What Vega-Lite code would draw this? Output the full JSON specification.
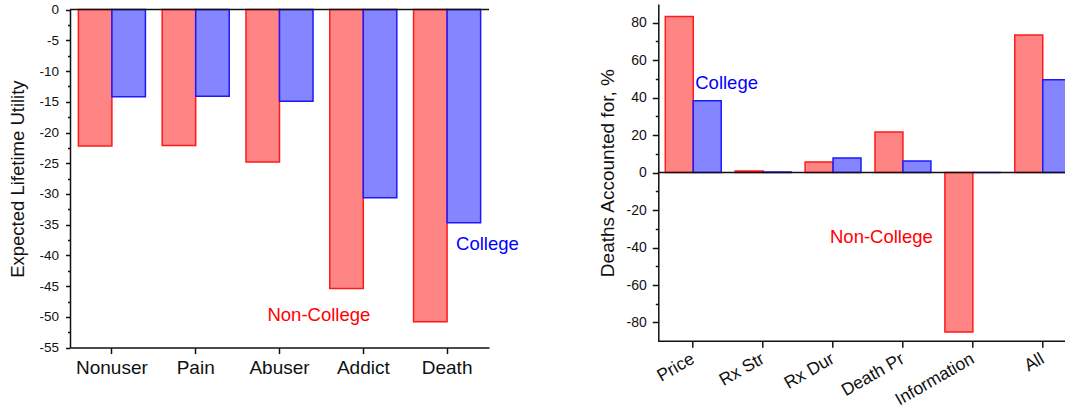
{
  "$schema": "https://vega.github.io/schema/vega-lite/v6.json",
  "padding": {"left": 8, "top": 2, "right": 0, "bottom": 0},
  "bounds": "flush",
  "spacing": 169.3,
  "resolve": {"scale": {"xOffset": "independent", "x": "independent", "y": "independent"}},
  "config": {
    "font": "Liberation Sans",
    "view": {"stroke": null},
    "axis": {
      "grid": false,
      "labelOverlap": false,
      "tickCount": 100,
      "domainColor": "#111",
      "domainWidth": 1.5,
      "tickColor": "#111",
      "tickWidth": 1.5,
      "labelColor": "#111",
      "titleColor": "#111",
      "titleFontWeight": "normal",
      "labelFont": "Liberation Sans",
      "titleFont": "Liberation Sans"
    },
    "text": {"font": "Liberation Sans"}
  },
  "hconcat": [
    {
      "width": 419,
      "height": 343.6,
      "layer": [
        {
          "layer": [
            {
              "data": {"values": [
                {"state": "Nonuser", "group": "Non-College", "utility": -22.2},
                {"state": "Nonuser", "group": "College", "utility": -14.2},
                {"state": "Pain", "group": "Non-College", "utility": -22.1},
                {"state": "Pain", "group": "College", "utility": -14.1},
                {"state": "Abuser", "group": "Non-College", "utility": -24.8},
                {"state": "Abuser", "group": "College", "utility": -14.9},
                {"state": "Addict", "group": "Non-College", "utility": -45.4},
                {"state": "Addict", "group": "College", "utility": -30.6},
                {"state": "Death", "group": "Non-College", "utility": -50.8},
                {"state": "Death", "group": "College", "utility": -34.7}
              ]},
              "mark": {"type": "bar", "strokeWidth": 1.5},
              "encoding": {
                "x": {
                  "field": "state", "type": "nominal",
                  "scale": {"domain": ["Nonuser", "Pain", "Abuser", "Addict", "Death"], "paddingInner": 0, "paddingOuter": 0},
                  "axis": {"title": null, "labelAngle": 0, "labelFontSize": 19, "tickSize": 6, "labelPadding": 5}
                },
                "xOffset": {
                  "field": "group", "type": "nominal",
                  "scale": {"domain": ["Non-College", "College"], "paddingInner": 0, "paddingOuter": 0.25}
                },
                "y": {
                  "field": "utility", "type": "quantitative",
                  "scale": {"domain": [-55, 0], "range": [343.6, 5.6], "nice": false, "zero": false},
                  "axis": {
                    "title": "Expected Lifetime Utility",
                    "titleFontSize": 18.5,
                    "titlePadding": 11,
                    "labelFontSize": 13.5,
                    "labelPadding": 7,
                    "tickSize": 4.5,
                    "tickCount": 100,
                    "labelOverlap": false,
                    "values": [0, -5, -10, -15, -20, -25, -30, -35, -40, -45, -50, -55],
                    "labelExpr": "toString(datum.value)"
                  }
                },
                "fill": {"field": "group", "type": "nominal", "scale": {"domain": ["Non-College", "College"], "range": ["#ff8585", "#8585ff"]}, "legend": null},
                "stroke": {"field": "group", "type": "nominal", "scale": {"domain": ["Non-College", "College"], "range": ["#ff1a1a", "#1a1aff"]}, "legend": null}
              }
            },
            {
              "data": {"values": [{"utility": 0}]},
              "mark": {"type": "rule", "color": "#111", "strokeWidth": 1.5},
              "encoding": {"y": {"field": "utility", "type": "quantitative"}}
            },
            {
              "data": {"values": [{"state": "Addict", "utility": -49.7, "label": "Non-College"}]},
              "mark": {"type": "text", "align": "right", "baseline": "middle", "dx": 7, "fontSize": 18.5, "color": "#ff0000"},
              "encoding": {
                "x": {"field": "state", "type": "nominal"},
                "y": {"field": "utility", "type": "quantitative"},
                "text": {"field": "label"}
              }
            },
            {
              "data": {"values": [{"state": "Death", "utility": -38.2, "label": "College"}]},
              "mark": {"type": "text", "align": "left", "baseline": "middle", "dx": 9, "fontSize": 18.5, "color": "#0000ff"},
              "encoding": {
                "x": {"field": "state", "type": "nominal"},
                "y": {"field": "utility", "type": "quantitative"},
                "text": {"field": "label"}
              }
            }
          ]
        },
        {
          "data": {"values": [{"utility": 0}]},
          "mark": {"type": "rule", "opacity": 0},
          "encoding": {
            "y": {
              "field": "utility", "type": "quantitative",
              "axis": {"orient": "left", "tickCount": 100, "values": [-2.5, -7.5, -12.5, -17.5, -22.5, -27.5, -32.5, -37.5, -42.5, -47.5, -52.5], "tickSize": 2.5, "labels": false, "domain": false, "title": null}
            }
          }
        }
      ],
      "resolve": {"axis": {"y": "independent"}}
    },
    {
      "width": 408.7,
      "height": 337.2,
      "layer": [
        {
          "layer": [
            {
              "data": {"values": [
                {"factor": "Price", "group": "Non-College", "pct": 83.3},
                {"factor": "Price", "group": "College", "pct": 38.4},
                {"factor": "Rx Str", "group": "Non-College", "pct": 0.8},
                {"factor": "Rx Str", "group": "College", "pct": 0.3},
                {"factor": "Rx Dur", "group": "Non-College", "pct": 5.7},
                {"factor": "Rx Dur", "group": "College", "pct": 7.8},
                {"factor": "Death Pr", "group": "Non-College", "pct": 21.7},
                {"factor": "Death Pr", "group": "College", "pct": 6.2},
                {"factor": "Information", "group": "Non-College", "pct": -85.1},
                {"factor": "Information", "group": "College", "pct": 0},
                {"factor": "All", "group": "Non-College", "pct": 73.5},
                {"factor": "All", "group": "College", "pct": 49.5}
              ]},
              "mark": {"type": "bar", "strokeWidth": 1.5, "clip": true},
              "encoding": {
                "x": {
                  "field": "factor", "type": "nominal",
                  "scale": {"domain": ["Price", "Rx Str", "Rx Dur", "Death Pr", "Information", "All"], "range": [0, 419.4], "paddingInner": 0, "paddingOuter": 0},
                  "axis": {"title": null, "domain": false, "labelAngle": -30, "labelAlign": "right", "labelBaseline": "middle", "labelFontSize": 17.5, "tickSize": 6, "labelPadding": 10}
                },
                "xOffset": {
                  "field": "group", "type": "nominal",
                  "scale": {"domain": ["Non-College", "College"], "range": [0, 69.9], "paddingInner": 0, "paddingOuter": 0.25}
                },
                "y": {
                  "field": "pct", "type": "quantitative",
                  "scale": {"domain": [-90, 90], "nice": false},
                  "axis": {
                    "title": "Deaths Accounted for, %",
                    "titleFontSize": 19,
                    "titlePadding": 9,
                    "labelFontSize": 14,
                    "labelPadding": 6,
                    "tickSize": 6,
                    "tickCount": 100,
                    "labelOverlap": false,
                    "values": [-80, -60, -40, -20, 0, 20, 40, 60, 80],
                    "labelExpr": "toString(datum.value)"
                  }
                },
                "fill": {"field": "group", "type": "nominal", "scale": {"domain": ["Non-College", "College"], "range": ["#ff8585", "#8585ff"]}, "legend": null},
                "stroke": {"field": "group", "type": "nominal", "scale": {"domain": ["Non-College", "College"], "range": ["#ff1a1a", "#1a1aff"]}, "legend": null}
              }
            },
            {
              "data": {"values": [{"pct": 0}, {"pct": -90}]},
              "mark": {"type": "rule", "color": "#111", "strokeWidth": 1.5},
              "encoding": {"y": {"field": "pct", "type": "quantitative"}}
            },
            {
              "data": {"values": [{"factor": "Price", "pct": 47.9, "label": "College"}]},
              "mark": {"type": "text", "align": "left", "baseline": "middle", "dx": 2, "fontSize": 18.5, "color": "#0000ff"},
              "encoding": {
                "x": {"field": "factor", "type": "nominal"},
                "y": {"field": "pct", "type": "quantitative"},
                "text": {"field": "label"}
              }
            },
            {
              "data": {"values": [{"factor": "Information", "pct": -34.6, "label": "Non-College"}]},
              "mark": {"type": "text", "align": "right", "baseline": "middle", "dx": -40, "fontSize": 18.5, "color": "#ff0000"},
              "encoding": {
                "x": {"field": "factor", "type": "nominal"},
                "y": {"field": "pct", "type": "quantitative"},
                "text": {"field": "label"}
              }
            }
          ]
        },
        {
          "data": {"values": [{"pct": 0}]},
          "mark": {"type": "rule", "opacity": 0},
          "encoding": {
            "y": {
              "field": "pct", "type": "quantitative",
              "axis": {"orient": "left", "tickCount": 100, "values": [-70, -50, -30, -10, 10, 30, 50, 70], "tickSize": 3, "labels": false, "domain": false, "title": null}
            }
          }
        }
      ],
      "resolve": {"axis": {"y": "independent"}}
    }
  ]
}
